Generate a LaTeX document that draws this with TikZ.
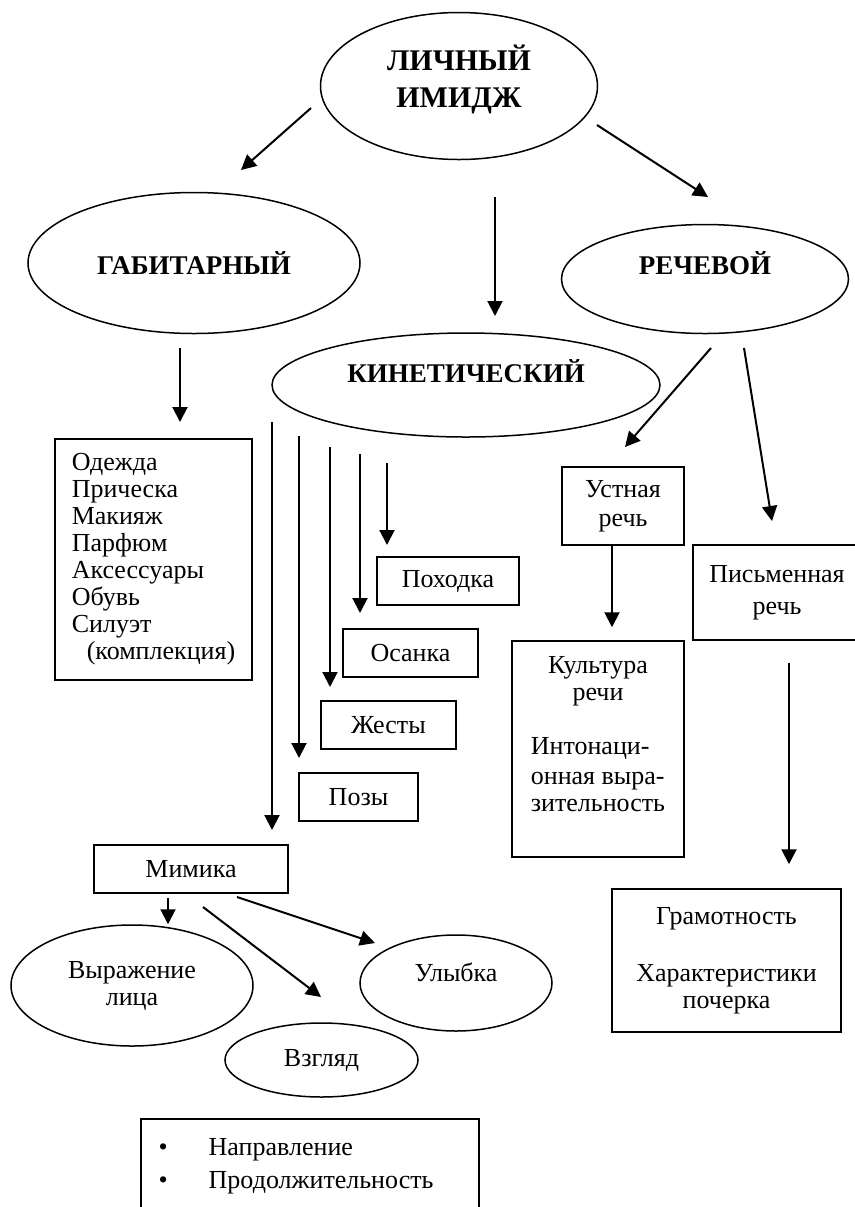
\documentclass[tikz,border=0pt]{standalone}
\usepackage{fontspec}
\setmainfont{Liberation Serif}
\usetikzlibrary{shapes.geometric,arrows.meta}

\begin{document}
\begin{tikzpicture}[x=0.5pt, y=-0.5pt,
      every node/.style={font=\fontsize{13}{13.5}\selectfont},
      oval/.style={ellipse, draw, line width=0.75pt, inner sep=0pt},
      ramka/.style={rectangle, draw, line width=0.75pt, inner sep=0pt},
      zagl/.style={font=\fontsize{13.5}{16}\selectfont\bfseries},
      strelka/.style={-{Triangle[length=7.5pt,width=7.5pt]}, line width=1pt}]
    \useasboundingbox (0,0) rectangle (855,1207);

    % верхний уровень
    \node[oval, minimum width=138.5pt, minimum height=73.5pt,
          font=\fontsize{15}{18.5}\selectfont\bfseries] (lichny) at (459,86)
          {\raisebox{2pt}[\height][\depth]{\begin{tabular}{@{}c@{}}ЛИЧНЫЙ\\ИМИДЖ\end{tabular}}};
    \node[oval, zagl, minimum width=166pt, minimum height=70.5pt] (gabit) at (194,263) {ГАБИТАРНЫЙ};
    \node[oval, zagl, minimum width=143.5pt, minimum height=54.5pt] (rech) at (705,279)
          {\raisebox{8pt}[\height][\depth]{РЕЧЕВОЙ}};
    \node[oval, zagl, minimum width=194pt, minimum height=52pt] (kinet) at (466,385)
          {\raisebox{7pt}[\height][\depth]{КИНЕТИЧЕСКИЙ}};

    % габитарный
    \node[ramka, minimum width=98.5pt, minimum height=120.5pt, align=left] (odezhda) at (153.5,559.5)
          {Одежда\\Прическа\\Макияж\\Парфюм\\Аксессуары\\Обувь\\Силуэт\\\hspace{7.5pt}(комплекция)};

    % кинетический
    \node[ramka, minimum width=71pt, minimum height=24pt]   (pohodka) at (448,581)   {Походка};
    \node[ramka, minimum width=67.5pt, minimum height=24pt] (osanka)  at (410.5,653) {Осанка};
    \node[ramka, minimum width=67.5pt, minimum height=24pt] (zhesty)  at (388.5,725) {Жесты};
    \node[ramka, minimum width=59.5pt, minimum height=24pt] (pozy)    at (358.5,797) {Позы};
    \node[ramka, minimum width=97pt, minimum height=24pt]   (mimika)  at (191,869)   {Мимика};
    \node[oval, minimum width=121pt, minimum height=60.5pt, align=center] (vyrazh) at (132,985.5)
          {Выражение\\лица};
    \node[oval, minimum width=96pt, minimum height=48pt] (ulybka) at (456,983)
          {\raisebox{5.5pt}[\height][\depth]{Улыбка}};
    \node[oval, minimum width=96.5pt, minimum height=37pt] (vzglyad) at (321.5,1060) {Взгляд};
    \node[ramka, anchor=north west, text width=151pt, inner xsep=9pt, minimum height=47pt,
          align=left] (spisok) at (140,1118)
          {\makebox[25pt][l]{\textbullet}Направление\\[3pt]\makebox[25pt][l]{\textbullet}Продолжительность};

    % речевой
    \node[ramka, minimum width=61pt, minimum height=39pt, align=center] (ustnaya) at (623,506)
          {Устная\\[1pt]речь};
    \node[ramka, minimum width=84pt, minimum height=47.5pt, align=center] (pismen) at (777,592.5)
          {Письменная\\[2.5pt]речь};
    \node[ramka, minimum width=86pt, minimum height=108pt] (kultura) at (598,749)
          {\raisebox{6pt}[\height][\depth]{\begin{tabular}{@{}l@{}}
            \multicolumn{1}{@{}c@{}}{Культура}\\ \multicolumn{1}{@{}c@{}}{речи}\\ \\
            Интонаци-\\[1.5pt]онная выра-\\зительность\end{tabular}}};
    \node[ramka, minimum width=114.5pt, minimum height=71.5pt, align=center] (gramot) at (726.5,960.5)
          {Грамотность\\[15pt]Характеристики\\почерка};

    % свободные концы стрелок
    \coordinate (g1) at (311,108);  \coordinate (g2) at (241,170);
    \coordinate (r1) at (597,125);  \coordinate (r2) at (708,197);
    \coordinate (k1) at (495,197);  \coordinate (k2) at (495,316);
    \coordinate (o1) at (180,348);  \coordinate (o2) at (180,422);
    \coordinate (u1) at (711,348);  \coordinate (u2) at (625,447);
    \coordinate (p1) at (744,348);  \coordinate (p2) at (772,521);
    \coordinate (m1) at (272,422);  \coordinate (m2) at (272,830);
    \coordinate (z1) at (299,436);  \coordinate (z2) at (299,758);
    \coordinate (j1) at (330,447);  \coordinate (j2) at (330,687);
    \coordinate (s1) at (360,454);  \coordinate (s2) at (360,613);
    \coordinate (h1) at (387,463);  \coordinate (h2) at (387,545);
    \coordinate (v1) at (203,907);  \coordinate (v2) at (321,997);
    \coordinate (y1) at (237,897);  \coordinate (y2) at (375,943);

    \draw[strelka] (g1) -- (g2);
    \draw[strelka] (r1) -- (r2);
    \draw[strelka] (k1) -- (k2);
    \draw[strelka] (o1) -- (o2);
    \draw[strelka] (u1) -- (u2);
    \draw[strelka] (p1) -- (p2);
    \draw[strelka] (m1) -- (m2);
    \draw[strelka] (z1) -- (z2);
    \draw[strelka] (j1) -- (j2);
    \draw[strelka] (s1) -- (s2);
    \draw[strelka] (h1) -- (h2);
    \draw[strelka] (v1) -- (v2);
    \draw[strelka] (y1) -- (y2);
    \draw[strelka, shorten >=6.5pt] ([xshift=-5.5pt]ustnaya.south) -- ([xshift=-5.5pt]ustnaya.south |- kultura.north);
    \draw[strelka, shorten <=11pt, shorten >=12pt] ([xshift=6pt]pismen.south) -- ([xshift=6pt]pismen.south |- gramot.north);
    \draw[strelka, shorten <=2pt] ([xshift=-11.5pt]mimika.south) -- ([xshift=-11.5pt]mimika.south |- vyrazh.north);
  \end{tikzpicture}
\end{document}
